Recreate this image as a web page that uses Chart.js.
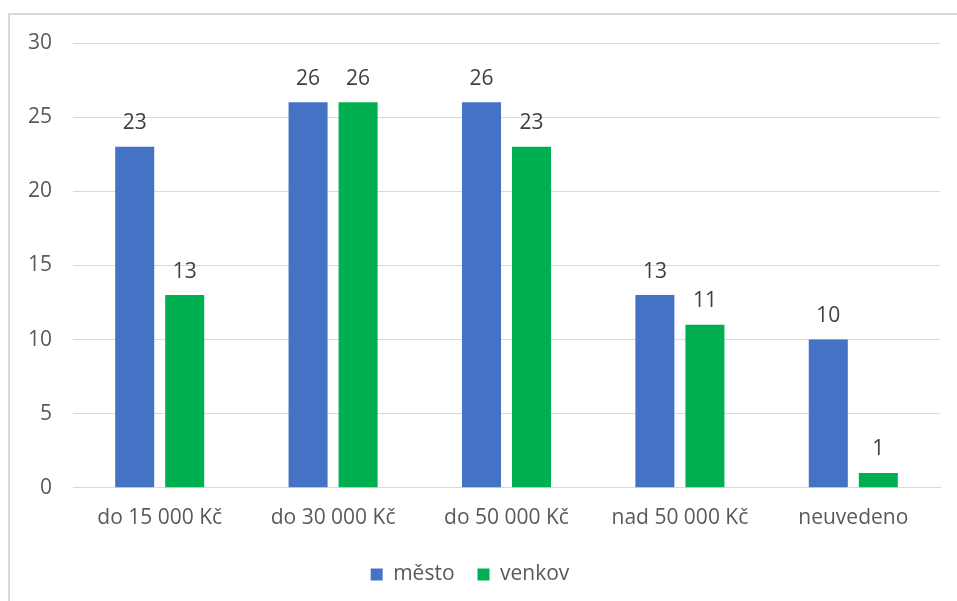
<!DOCTYPE html>
<html>
<head>
<meta charset="utf-8">
<script src="https://cdn.jsdelivr.net/npm/chart.js@4.4.1/dist/chart.umd.min.js"></script>
<style>
    html, body { margin: 0; padding: 0; background: #fff; }
    #wrap { position: relative; width: 957px; height: 601px; overflow: hidden; }
    #frame { position: absolute; left: 8px; top: 13px; width: 1000px; height: 700px;
             border-left: 2px solid #d9d9d9; border-top: 2px solid #d9d9d9; }
    canvas { position: absolute; left: 0; top: 0; }
</style>
</head>
<body>
<div id="wrap">
    <div id="frame"></div>
    <canvas id="chart" width="957" height="601"></canvas>
</div>
<script>
const categories = ['do 15 000 Kč', 'do 30 000 Kč', 'do 50 000 Kč', 'nad 50 000 Kč', 'neuvedeno'];
const mesto = [23, 26, 26, 13, 10];
const venkov = [13, 26, 23, 11, 1];
const yTicks = [0, 5, 10, 15, 20, 25, 30];

const textColor = '#595959';
const fontFamily = '"Open Sans", "Noto Sans", sans-serif';

// hodnoty nad sloupci
const barLabels = {
    id: 'barLabels',
    afterDatasetsDraw(chart) {
        const ctx = chart.ctx;
        ctx.save();
        ctx.fillStyle = '#404040';
        ctx.font = '21px ' + fontFamily;
        ctx.textAlign = 'center';
        ctx.textBaseline = 'bottom';
        chart.data.datasets.forEach((ds, i) => {
            chart.getDatasetMeta(i).data.forEach((bar, j) => {
                ctx.fillText(ds.data[j], bar.x, bar.y - 13);
            });
        });
        ctx.restore();
    }
};

new Chart(document.getElementById('chart'), {
    type: 'bar',
    data: {
        labels: categories,
        datasets: [
            { label: 'město', data: mesto, backgroundColor: '#4472C4',
              categoryPercentage: 0.577, barPercentage: 0.78 },
            { label: 'venkov', data: venkov, backgroundColor: '#00B050',
              categoryPercentage: 0.577, barPercentage: 0.78 }
        ]
    },
    options: {
        responsive: false,
        animation: false,
        layout: { padding: { top: 43, right: 17, bottom: 6, left: 0 } },
        plugins: {
            tooltip: { enabled: false },
            legend: {
                position: 'bottom',
                labels: {
                    boxWidth: 12, boxHeight: 12, padding: 23,
                    color: textColor,
                    font: { family: fontFamily, size: 21 }
                }
            }
        },
        scales: {
            x: {
                grid: { display: false },
                border: { display: true, color: '#d9d9d9', width: 1 },
                ticks: { color: textColor, padding: 10, font: { family: fontFamily, size: 21 } }
            },
            y: {
                min: 0, max: 30,
                afterBuildTicks(scale) { scale.ticks = yTicks.map(v => ({ value: v })); },
                afterFit(scale) { scale.width = 73; },
                grid: { color: '#d9d9d9', lineWidth: 1, drawTicks: false },
                border: { display: false },
                ticks: { color: textColor, padding: 21, font: { family: fontFamily, size: 21 } }
            }
        }
    },
    plugins: [barLabels]
});
</script>
</body>
</html>
